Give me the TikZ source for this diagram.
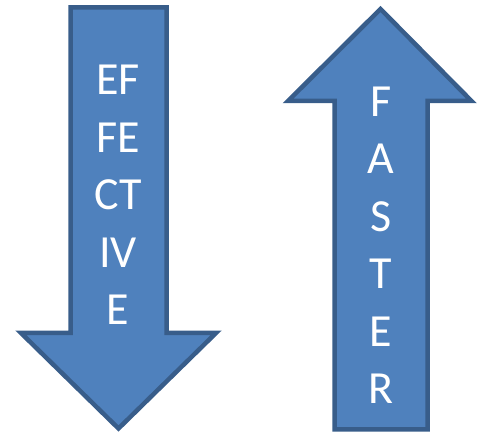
\documentclass[tikz,border=0pt]{standalone}
\usepackage{fontspec}
\setmainfont{Carlito}
\definecolor{arrowfill}{HTML}{4F81BD}
\definecolor{arrowline}{HTML}{385D8A}
\tikzset{
  bigarrow/.style={fill=arrowfill, draw=arrowline, line width=4.5pt, line join=miter},
  arrowtext/.style={text=white, align=center, inner sep=0pt, anchor=north,
    font=\fontsize{46}{57.5}\selectfont}
}
\begin{document}
\begin{tikzpicture}[x=1pt,y=-1pt]
\useasboundingbox (0,0) rectangle (477,435);
% down arrow
\draw[bigarrow] (70.5,7.5) -- (166.5,7.5) -- (166.5,333) -- (216,333) -- (118.5,428.5)
  -- (21,333) -- (70.5,333) -- cycle;
% up arrow
\draw[bigarrow] (334.5,429.5) -- (427.5,429.5) -- (427.5,101) -- (471.5,101) -- (380.5,9)
  -- (288,101) -- (334.5,101) -- cycle;
\node[arrowtext] (effective) at (118,65) {EF\\FE\\CT\\IV\\E};
\node[arrowtext] (faster) at (381,86.5) {F\\A\\S\\T\\E\\R};
\end{tikzpicture}
\end{document}
